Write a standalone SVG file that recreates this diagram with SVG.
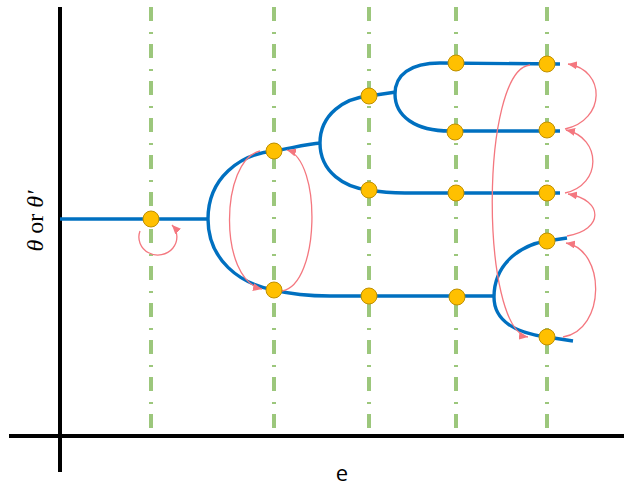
<svg xmlns="http://www.w3.org/2000/svg" width="624" height="486" viewBox="0 0 624 486">
<style>
.axis{stroke:#000;stroke-width:4;fill:none}
.grid{stroke:#9cc77c;stroke-width:4;stroke-dasharray:14 11 2 10;fill:none}
.branch{stroke:#0070c0;stroke-width:3.4;fill:none}
.node{fill:#ffc000;stroke:#bf9000;stroke-width:1}
.arrow{stroke:#f4777f;stroke-width:1.3;fill:none;marker-end:url(#ah)}
.lbl{font-family:"Liberation Serif",serif;font-size:24px;fill:#000}
.xl{font-family:"Open Sans","Liberation Sans",sans-serif;font-size:22px;fill:#000}
</style>
<defs>
<marker id="ah" markerUnits="userSpaceOnUse" markerWidth="10" markerHeight="8" refX="9" refY="4" orient="auto">
<path d="M0,0 L9,4 L0,8 z" fill="#f4777f"/>
</marker>
</defs>
<rect width="624" height="486" fill="#fff"/>
<g id="grid">
<line class="grid" x1="151" y1="7" x2="151" y2="434"/>
<line class="grid" x1="274" y1="7" x2="274" y2="434"/>
<line class="grid" x1="369" y1="7" x2="369" y2="434"/>
<line class="grid" x1="456" y1="7" x2="456" y2="434"/>
<line class="grid" x1="547" y1="7" x2="547" y2="434"/>
</g>
<g id="axes">
<line class="axis" x1="60" y1="7" x2="60" y2="472"/>
<line class="axis" x1="9" y1="436" x2="624" y2="436"/>
<text class="lbl" transform="translate(43,221) rotate(-90)" text-anchor="middle"><tspan font-style="italic">θ</tspan> or <tspan font-style="italic">θ′</tspan></text>
<text class="xl" x="342" y="481" text-anchor="middle">e</text>
</g>
<g id="branches">
<path class="branch" d="M60,219 L208,219"/>
<path class="branch" d="M208,219 C208,178 240,154 274,151 C292,148 306,144 321,143"/>
<path class="branch" d="M208,219 C208,260 240,284 274,290 C290,294 305,296 330,296 L495,296"/>
<path class="branch" d="M320,143 C320,114 345,98 369,96 L396,92"/>
<path class="branch" d="M320,143 C320,172 345,188 369,190 C380,192 390,193 405,193 L560,193"/>
<path class="branch" d="M560,64 L440,63 C410,63 395,75 395,94 C395,116 415,131 450,131 L560,131"/>
<path class="branch" d="M494,297 C494,264 520,245 547,241 L567,238"/>
<path class="branch" d="M494,297 C494,321 516,333 547,337 L573,341"/>
</g>
<g id="connectors">
<path class="arrow" d="M140,231 A19 18 0 1 0 172,225"/>
<path class="arrow" d="M260,151 C220,160 218,280 262,289"/>
<path class="arrow" d="M282,291 C320,285 322,160 287,150"/>
<path class="arrow" d="M530,65 C480,70 480,330 528,337"/>
<path class="arrow" d="M565,129 C606,120 606,70 568,64"/>
<path class="arrow" d="M565,193 C602,185 602,138 566,130"/>
<path class="arrow" d="M567,236 C604,230 604,200 568,194"/>
<path class="arrow" d="M563,337 C606,330 606,250 566,243"/>
</g>
<g id="n1"><circle class="node" cx="151" cy="219" r="8"/></g>
<g id="n2"><circle class="node" cx="274" cy="151" r="8"/></g>
<g id="n3"><circle class="node" cx="274" cy="290" r="8"/></g>
<g id="n4"><circle class="node" cx="369" cy="96" r="8"/></g>
<g id="n5"><circle class="node" cx="369" cy="190" r="8"/></g>
<g id="n6"><circle class="node" cx="369" cy="296" r="8"/></g>
<g id="n7"><circle class="node" cx="456" cy="63" r="8"/></g>
<g id="n8"><circle class="node" cx="455" cy="132" r="8"/></g>
<g id="n9"><circle class="node" cx="456" cy="193" r="8"/></g>
<g id="n10"><circle class="node" cx="457" cy="297" r="8"/></g>
<g id="n11"><circle class="node" cx="547" cy="64" r="8"/></g>
<g id="n12"><circle class="node" cx="547" cy="130" r="8"/></g>
<g id="n13"><circle class="node" cx="547" cy="193" r="8"/></g>
<g id="n14"><circle class="node" cx="547" cy="241" r="8"/></g>
<g id="n15"><circle class="node" cx="547" cy="337" r="8"/></g>
</svg>
